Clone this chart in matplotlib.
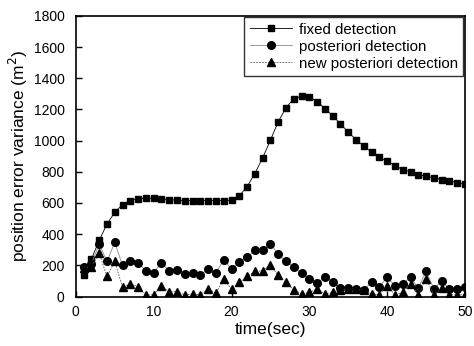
import numpy as np
import matplotlib
matplotlib.use("Agg")
from matplotlib import pyplot as plt

plt.rcParams['font.family'] = ['Liberation Sans', 'DejaVu Sans']

t = np.arange(1, 51)

fixed = [140, 240, 360, 465, 540, 590, 615, 628, 630, 630,
         625, 622, 618, 615, 615, 615, 615, 615, 615, 618,
         645, 705, 789, 889, 1003, 1121, 1211, 1269, 1285, 1281,
         1251, 1206, 1159, 1108, 1054, 1007, 964, 926, 893, 868,
         840, 814, 801, 782, 771, 761, 750, 742, 731, 720]

posteriori = [190, 210, 335, 225, 347, 199, 229, 215, 165, 154,
              215, 165, 172, 146, 150, 140, 176, 150, 236, 176,
              219, 253, 296, 300, 337, 272, 225, 189, 150, 112,
              86, 125, 95, 55, 52, 50, 45, 90, 64, 123,
              69, 82, 123, 54, 161, 50, 97, 50, 50, 58]

new_post = [185, 190, 279, 129, 225, 60, 82, 64, 11, 11,
            69, 28, 32, 11, 15, 11, 48, 22, 112, 48,
            90, 129, 161, 165, 204, 135, 90, 43, 17, 26,
            49, 17, 26, 45, 48, 47, 42, 17, 11, 69,
            11, 26, 80, 11, 114, 11, 54, 11, 11, 11]

fig = plt.figure(figsize=(4.74, 3.46), dpi=100)
ax = fig.add_axes([0.160, 0.143, 0.821, 0.811])

ax.plot(t, fixed, color='black', lw=0.6, marker='s', ms=5, label='fixed detection')
ax.plot(t, posteriori, color='#888888', lw=0.6, marker='o', ms=5.5,
        mfc='black', mec='black', label='posteriori detection')
ax.plot(t, new_post, color='#555555', lw=0.6, ls=(0, (2, 1.5)), marker='^', ms=5.5,
        mfc='black', mec='black', label='new posteriori detection')

ax.set_xlim(0, 50)
ax.set_ylim(0, 1800)
ax.set_xticks([0, 10, 20, 30, 40, 50])
ax.set_yticks(range(0, 1801, 200))
ax.tick_params(direction='in', labelsize=10, width=1, length=4)
ax.tick_params(axis='y', pad=8)
ax.tick_params(axis='x', pad=6)
for s in ax.spines.values():
    s.set_linewidth(1.2)

ax.set_xlabel('time(sec)', fontsize=12.5, labelpad=2)
ax.set_ylabel('position error variance (m$^2$)', fontsize=12.5, labelpad=3)

leg = ax.legend(loc='upper right', fontsize=10.8, frameon=True, fancybox=False,
                edgecolor='black', handlelength=2.8, borderaxespad=0.1,
                labelspacing=0.2, borderpad=0.35, handletextpad=0.5)
leg.get_frame().set_linewidth(1.0)

fig.savefig('out.png', dpi=100)
